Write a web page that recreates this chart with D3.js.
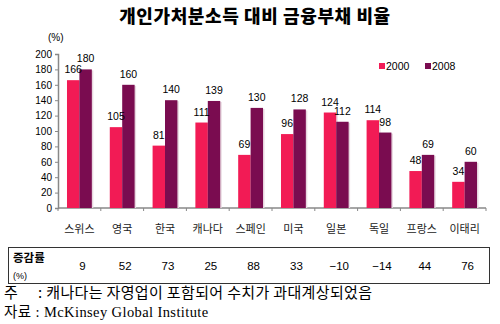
<!DOCTYPE html>
<html><head><meta charset="utf-8">
<script src="https://cdn.jsdelivr.net/npm/d3@7"></script>
<style>body{margin:0;background:#fff}svg{display:block}</style>
</head><body>
<script>
const categories = ["스위스","영국","한국","캐나다","스페인","미국","일본","독일","프랑스","이태리"];
const v2000 = [166,105,81,111,69,96,124,114,48,34];
const v2008 = [180,160,140,139,130,128,112,98,69,60];
const changes = ["9","52","73","25","88","33","−10","−14","44","76"];
const yTicks = [0,20,40,60,80,100,120,140,160,180,200];
const seriesNames = ["2000","2008"];
const colors = ["#F21B55","#7A0C50"];

const W=500,H=324;
const svg=d3.select("body").append("svg").attr("width",W).attr("height",H);
const kr="'Noto Sans CJK KR','Noto Sans',sans-serif";
const lat="'Liberation Sans',Arial,sans-serif";

svg.append("text").attr("x",255).attr("y",23).attr("text-anchor","middle")
 .attr("font-family",kr).attr("font-weight","900").attr("font-size",18).attr("letter-spacing",0.6).text("개인가처분소득 대비 금융부채 비율");

const x0=d3.scaleBand().domain(categories).range([58,486]).paddingInner(0.42).paddingOuter(0.21);
const x1=d3.scaleBand().domain(seriesNames).range([0,x0.bandwidth()]);
const y=d3.scaleLinear().domain([0,200]).range([208,54]);

// y axis
const ya=svg.append("g").attr("transform","translate(58,0)").call(d3.axisLeft(y).tickValues(yTicks).tickSize(3));
ya.select(".domain").attr("stroke","#888").attr("stroke-width",1.5);
ya.selectAll("line").attr("stroke","#888");
ya.selectAll("text").attr("font-family",lat).attr("font-size",10).attr("fill","#000");
// x axis
const xa=svg.append("g").attr("transform","translate(0,208)");
xa.append("line").attr("x1",58).attr("x2",486).attr("stroke","#888").attr("stroke-width",1.5);
xa.selectAll(".tk").data(d3.range(categories.length+1)).join("line")
 .attr("x1",i=>58+i*(428/categories.length)).attr("x2",i=>58+i*(428/categories.length))
 .attr("y1",0).attr("y2",3).attr("stroke","#888");

svg.append("text").attr("x",48).attr("y",41).attr("font-family",lat).attr("font-size",10).text("(%)");

const data=categories.map((c,i)=>({c,vals:[v2000[i],v2008[i]]}));
const g=svg.selectAll(".grp").data(data).join("g").attr("transform",d=>`translate(${x0(d.c)},0)`);
g.selectAll("rect.sh").data(d=>d.vals.map((v,j)=>({v,j}))).join("rect")
 .attr("x",d=>x1(seriesNames[d.j])+1.5).attr("y",d=>y(d.v)+1).attr("width",x1.bandwidth()).attr("height",d=>208-y(d.v)-1)
 .attr("fill","#e8d8e0");
g.selectAll("rect.b").data(d=>d.vals.map((v,j)=>({v,j}))).join("rect")
 .attr("x",d=>x1(seriesNames[d.j])).attr("y",d=>y(d.v)).attr("width",x1.bandwidth()).attr("height",d=>208-y(d.v))
 .attr("fill",d=>colors[d.j]);
g.selectAll("text").data(d=>d.vals.map((v,j)=>({v,j}))).join("text")
 .attr("x",d=>x1(seriesNames[d.j])+x1.bandwidth()/2).attr("y",d=>y(d.v)-7)
 .attr("text-anchor","middle").attr("font-family",lat).attr("font-size",10.5).text(d=>d.v);

svg.selectAll(".cl").data(categories).join("text").attr("x",d=>x0(d)+x0.bandwidth()/2).attr("y",233)
 .attr("text-anchor","middle").attr("font-family",kr).attr("font-size",11).attr("fill","#222").text(d=>d);

// legend
const lg=svg.append("g");
seriesNames.forEach((s,i)=>{
  const lx=379+i*46;
  lg.append("rect").attr("x",lx).attr("y",63).attr("width",6).attr("height",6).attr("fill",colors[i]);
  lg.append("text").attr("x",lx+7).attr("y",70).attr("font-family",lat).attr("font-size",10.5).text(s);
});

// table
svg.append("rect").attr("x",8.5).attr("y",247.5).attr("width",481).attr("height",36).attr("fill","none").attr("stroke","#333").attr("stroke-width",1);
svg.append("text").attr("x",13).attr("y",262).attr("font-family",kr).attr("font-weight","bold").attr("font-size",11.5).text("증감률");
svg.append("text").attr("x",13).attr("y",279).attr("font-family",lat).attr("font-size",9).text("(%)");
svg.selectAll(".ch").data(categories).join("text").attr("x",(d)=>x0(d)+x0.bandwidth()/2+3).attr("y",270)
 .attr("text-anchor","middle").attr("font-family",lat).attr("font-size",11.5)
 .text((d,i)=>changes[i]);

const ser="'Liberation Serif','Noto Sans CJK KR',serif";
const n1=svg.append("text").attr("y",298).attr("font-family","'Noto Sans CJK KR',serif").attr("font-size",15).attr("letter-spacing",0.35);
n1.append("tspan").attr("x",4).text("주");
n1.append("tspan").attr("x",38).text(": 캐나다는 자영업이 포함되어 수치가 과대계상되었음");
svg.append("text").attr("x",4).attr("y",317).attr("font-family",ser).attr("font-size",14.5).attr("letter-spacing",0.4).text("자료 : McKinsey Global Institute");
</script>
</body></html>
